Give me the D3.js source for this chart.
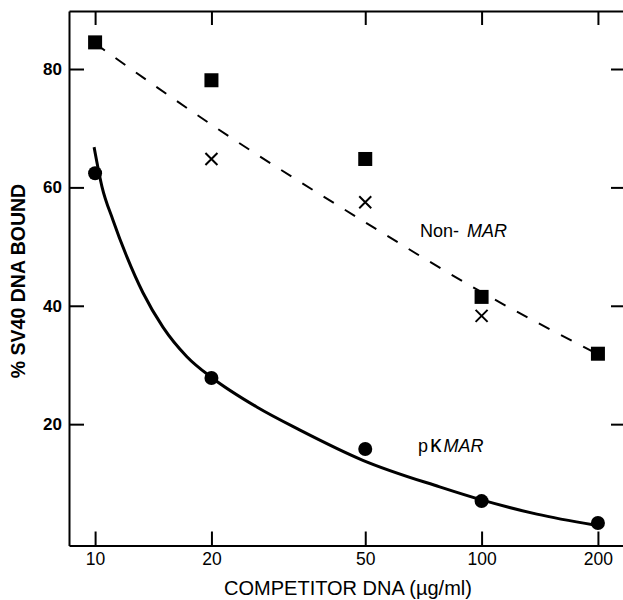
<!DOCTYPE html>
<html>
<head>
<meta charset="utf-8">
<script src="https://cdn.jsdelivr.net/npm/d3@7"></script>
<style>
  body { margin: 0; background: #fff; }
  svg { display: block; font-family: "Liberation Sans", Arial, sans-serif; }
</style>
</head>
<body>
<div id="viz-container"></div>
<script>
// concentrations of competitor DNA (ug/ml)
let conc = [10, 20, 50, 100, 200];
let xTicks = [10, 20, 50, 100, 200];
let yTicks = [20, 40, 60, 80];

// non-MAR competitor, squares and crosses
let nonMarSquares = [84.5, 78.1, 64.8, 41.5, 31.9];
let crossConc = [20, 50, 100];
let nonMarCrosses = [64.8, 57.5, 38.3];
// dashed line drawn through the non-MAR points
let dashConc = [10, 20, 50, 100, 200];
let dashVals = [84.3, 70.6, 54.1, 42.3, 31.8];

// pK MAR competitor, circles + fitted curve
let pkMar = [62.4, 27.8, 15.8, 7.0, 3.3];
let curveConc = [9.94, 10.42, 11.12, 12.08, 13.3, 14.98, 17.28, 20.1, 26.2, 33.9, 49.3, 77.9, 100, 139, 196];
let curveVals = [66.8, 60.1, 54.5, 48.3, 42.2, 36.4, 31.4, 27.8, 22.9, 19.0, 13.9, 9.4, 7.2, 4.8, 2.95];

let W = 623, H = 600;
let mLeft = 69, mRight = 625, mTop = 11, mBottom = 545.5;

let viz = d3.select("#viz-container")
    .append("svg")
        .attr("width", W)
        .attr("height", H);

let x = d3.scaleLog().domain([8.56, 235]).range([mLeft, mRight]);
let y = d3.scaleLinear().domain([-0.5, 89.8]).range([mBottom, mTop]);

// axes, ticks pointing inward
let styleAxis = g => {
    g.select(".domain").attr("stroke-width", 2);
    g.selectAll(".tick line").attr("stroke-width", 2);
};

viz.append("g")
    .attr("transform", `translate(0,${mBottom})`)
    .call(d3.axisBottom(x).tickValues(xTicks).tickFormat(d3.format("d"))
        .tickSizeInner(-14).tickSizeOuter(0).tickPadding(7))
    .call(styleAxis)
    .call(g => g.selectAll("text").attr("font-size", 17.5).attr("font-family", "Liberation Sans, Arial, sans-serif").attr("fill", "#000"));

viz.append("g")
    .attr("transform", `translate(0,${mTop})`)
    .call(d3.axisTop(x).tickValues(xTicks).tickFormat("")
        .tickSizeInner(-14).tickSizeOuter(0))
    .call(styleAxis);

viz.append("g")
    .attr("transform", `translate(${mLeft},0)`)
    .call(d3.axisLeft(y).tickValues(yTicks)
        .tickSizeInner(-15).tickSizeOuter(0).tickPadding(7))
    .call(styleAxis)
    .call(g => g.selectAll("text").attr("font-size", 17).attr("font-weight", "bold").attr("font-family", "Liberation Sans, Arial, sans-serif").attr("fill", "#000"));

viz.append("g")
    .attr("transform", `translate(${mRight},0)`)
    .call(d3.axisRight(y).tickValues(yTicks).tickFormat("")
        .tickSizeInner(-14).tickSizeOuter(0))
    .call(styleAxis);

// dashed non-MAR line
let line = d3.line().x(d => x(d[0])).y(d => y(d[1])).curve(d3.curveMonotoneX);

viz.append("path")
    .attr("d", line(d3.zip(dashConc, dashVals)))
    .attr("fill", "none")
    .attr("stroke", "#000")
    .attr("stroke-width", 2)
    .attr("stroke-dasharray", "12,13");

// solid pK MAR curve
viz.append("path")
    .attr("d", line(d3.zip(curveConc, curveVals)))
    .attr("fill", "none")
    .attr("stroke", "#000")
    .attr("stroke-width", 3);

// squares
viz.selectAll(".sq").data(d3.zip(conc, nonMarSquares)).enter()
    .append("rect")
        .attr("class", "sq")
        .attr("x", d => x(d[0]) - 7)
        .attr("y", d => y(d[1]) - 7)
        .attr("width", 14)
        .attr("height", 14)
        .attr("fill", "#000");

// crosses
viz.selectAll(".cross").data(d3.zip(crossConc, nonMarCrosses)).enter()
    .append("path")
        .attr("class", "cross")
        .attr("transform", d => `translate(${x(d[0])},${y(d[1])})`)
        .attr("d", "M-6,-6L6,6M-6,6L6,-6")
        .attr("stroke", "#000")
        .attr("stroke-width", 2)
        .attr("fill", "none");

// circles
viz.selectAll(".dot").data(d3.zip(conc, pkMar)).enter()
    .append("circle")
        .attr("class", "dot")
        .attr("cx", d => x(d[0]))
        .attr("cy", d => y(d[1]))
        .attr("r", 7)
        .attr("fill", "#000");

// series labels
let nonLbl = viz.append("text")
    .attr("x", 420).attr("y", 237)
    .attr("font-size", 18);
nonLbl.append("tspan").text("Non-");
nonLbl.append("tspan").attr("dx", 8).attr("font-style", "italic").text("MAR");

let pkLbl = viz.append("text")
    .attr("x", 418).attr("y", 452)
    .attr("font-size", 18);
pkLbl.append("tspan").text("p");
pkLbl.append("tspan").attr("dx", 2).attr("font-size", 23).text("κ");
pkLbl.append("tspan").attr("dx", 2).attr("font-style", "italic").text("MAR");

// axis titles
viz.append("text")
    .attr("x", 348).attr("y", 595)
    .attr("text-anchor", "middle")
    .attr("font-size", 20)
    .text("COMPETITOR DNA (µg/ml)");

viz.append("text")
    .attr("transform", "translate(24.5,281) rotate(-90)")
    .attr("text-anchor", "middle")
    .attr("font-size", 19.5)
    .attr("font-weight", "bold")
    .text("% SV40 DNA BOUND");
</script>
</body>
</html>
